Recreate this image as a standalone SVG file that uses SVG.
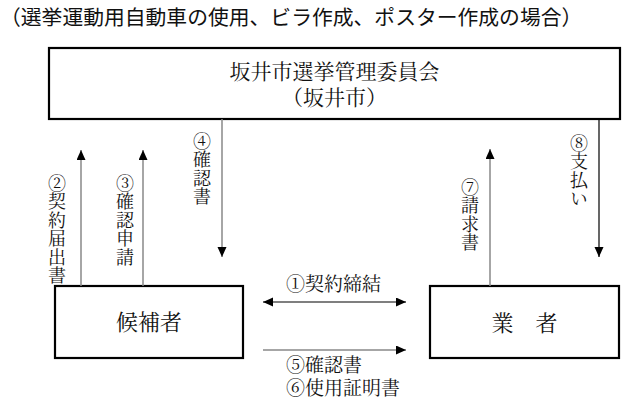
<svg xmlns="http://www.w3.org/2000/svg" width="642" height="411" viewBox="0 0 642 411">
<defs>
<marker id="ah" markerUnits="userSpaceOnUse" markerWidth="12" markerHeight="10" refX="10" refY="4.5" orient="auto-start-reverse">
<path d="M0,0 L10,4.5 L0,9 Z" fill="#000"/>
</marker>
<style>
.box{fill:#fff;stroke:#000;stroke-width:2.2}
.m{font-family:"Noto Serif CJK JP","Noto Sans CJK JP",serif;fill:#111}
.g{font-family:"Noto Sans CJK JP",sans-serif;fill:#111}
.ln{fill:none;stroke:#888;stroke-width:1.5}
.lb{fill:none;stroke:#000;stroke-width:1.2}
.vt{font-size:18px;writing-mode:vertical-rl;letter-spacing:0.5px}
.ht{font-size:19px}
</style>
</defs>
<rect width="642" height="411" fill="#fff"/>
<text class="g" x="0" y="25" font-size="20.8">（選挙運動用自動車の使用、ビラ作成、ポスター作成の場合）</text>

<g id="commission">
<rect class="box" x="49" y="48" width="571" height="71"/>
<text class="m" x="334.5" y="79" font-size="21" text-anchor="middle">坂井市選挙管理委員会</text>
<text class="m" x="334.5" y="105" font-size="21" text-anchor="middle">（坂井市）</text>
</g>
<g id="candidate">
<rect class="box" x="55" y="286" width="188" height="72"/>
<text class="m" x="149" y="330" font-size="22" text-anchor="middle">候補者</text>
</g>
<g id="vendor">
<rect class="box" x="430" y="286" width="189" height="72"/>
<text class="m" x="524.5" y="331" font-size="22" text-anchor="middle">業　者</text>
</g>

<g id="connectors">
<line class="ln" x1="81" y1="286" x2="81" y2="150" marker-end="url(#ah)"/>
<line class="ln" x1="143" y1="286" x2="143" y2="150" marker-end="url(#ah)"/>
<line class="ln" x1="222" y1="119" x2="222" y2="257" marker-end="url(#ah)"/>
<line class="ln" x1="490" y1="286" x2="490" y2="149" marker-end="url(#ah)"/>
<line class="lb" x1="599" y1="119" x2="599" y2="257" marker-end="url(#ah)"/>
<line class="lb" x1="263" y1="302" x2="406" y2="302" marker-start="url(#ah)" marker-end="url(#ah)"/>
<line class="ln" x1="263" y1="350" x2="406" y2="350" marker-end="url(#ah)"/>

<text class="m vt" x="57" y="174">②契約届出書</text>
<text class="m vt" x="125" y="174">③確認申請</text>
<text class="m vt" x="202" y="132">④確認書</text>
<text class="m vt" x="470" y="178">⑦請求書</text>
<text class="m vt" x="579" y="134">⑧支払い</text>

<text class="m ht" x="286" y="291">①契約締結</text>
<text class="m ht" x="286" y="372">⑤確認書</text>
<text class="m ht" x="286" y="395">⑥使用証明書</text>
</g>
</svg>
